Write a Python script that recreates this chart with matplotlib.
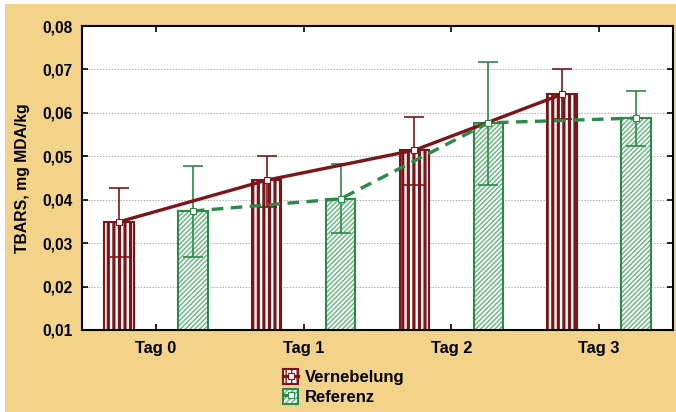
import numpy as np
import matplotlib
matplotlib.use('Agg')
import matplotlib.pyplot as plt
from matplotlib.patches import Rectangle
from matplotlib.ticker import FuncFormatter, MultipleLocator

# Daten
tage = ['Tag 0', 'Tag 1', 'Tag 2', 'Tag 3']
vern_mean = [0.0349, 0.0445, 0.0514, 0.0643]
vern_upper = [0.0426, 0.0501, 0.0591, 0.0700]
vern_lower = [0.0269, 0.0384, 0.0434, 0.0586]
ref_mean = [0.0374, 0.0402, 0.0577, 0.0588]
ref_upper = [0.0478, 0.0482, 0.0718, 0.0651]
ref_lower = [0.0269, 0.0323, 0.0433, 0.0524]

RED = '#7d1418'
GREEN = '#2b8a4a'
GREEN_HATCH = '#62b77b'
BG = '#f3d38a'

plt.rcParams['font.family'] = ['Liberation Sans', 'DejaVu Sans']
plt.rcParams['font.weight'] = 'bold'

fig = plt.figure(figsize=(6.76, 4.12), dpi=100, facecolor='white')
fig.patches.append(Rectangle((5/676, 0), 1, 1 - 4/412, transform=fig.transFigure,
                             facecolor=BG, edgecolor='none', zorder=-10))
ax = fig.add_axes([82/676, 82/412, 591/676, 304/412])

x = np.arange(len(tage))
off = 0.25
w = 0.2

with plt.rc_context({'hatch.linewidth': 2.3}):
    b1 = ax.bar(x - off, vern_mean, w, color='white', edgecolor=RED, hatch='|||',
                linewidth=1.5, zorder=2)
    h1 = Rectangle((0, 0), 1, 1, facecolor='white', edgecolor=RED, hatch='|||', lw=1.5)
with plt.rc_context({'hatch.linewidth': 1.0}):
    ax.bar(x + off, ref_mean, w, color='white', edgecolor=GREEN_HATCH, hatch='///////',
           linewidth=0, zorder=2)
    h2 = Rectangle((0, 0), 1, 1, facecolor='white', edgecolor=GREEN_HATCH, hatch='//////', lw=0)
ax.bar(x + off, ref_mean, w, color='none', edgecolor=GREEN, linewidth=1.5, zorder=2.1)
h2b = Rectangle((0, 0), 1, 1, facecolor='none', edgecolor=GREEN, lw=1.5)

vm = np.array(vern_mean)
rm = np.array(ref_mean)
ax.errorbar(x - off, vm, yerr=[vm - np.array(vern_lower), np.array(vern_upper) - vm],
            fmt='none', ecolor=RED, elinewidth=1.2, capsize=7, capthick=1.2, zorder=3)
ax.errorbar(x + off, rm, yerr=[rm - np.array(ref_lower), np.array(ref_upper) - rm],
            fmt='none', ecolor=GREEN, elinewidth=1.2, capsize=7, capthick=1.2, zorder=3)

l1, = ax.plot(x - off, vm, '-', color=RED, lw=2.4, marker='s', ms=5,
              mfc='white', mec=RED, mew=0.8, zorder=4)
l2, = ax.plot(x + off, rm, '--', color=GREEN, lw=2.4, dashes=(3.5, 2.2), marker='s', ms=5,
              mfc='white', mec=GREEN, mew=0.8, zorder=4)

ax.set_xlim(-0.5, 3.5)
ax.set_ylim(0.01, 0.08)
ax.yaxis.set_major_locator(MultipleLocator(0.01))
ax.yaxis.set_major_formatter(FuncFormatter(lambda v, p: f'{v:.2f}'.replace('.', ',')))
ax.set_xticks(x)
ax.set_xticklabels(tage)
ax.tick_params(direction='in', length=4, width=1.2, top=True, right=True, colors='black')
ax.tick_params(axis='y', pad=7, labelsize=11.2)
ax.tick_params(axis='x', pad=8, labelsize=11.8)
for lab in ax.get_xticklabels() + ax.get_yticklabels():
    lab.set_fontweight('bold')
ax.yaxis.grid(True, linestyle=(0, (1.5, 1.5)), color='#b0b0b0', lw=0.7)
ax.set_axisbelow(True)
for s in ax.spines.values():
    s.set_linewidth(1.5)

fig.text(23/676, 0.568, 'TBARS, mg MDA/kg', rotation=90, ha='center', va='center',
         fontsize=11.3, fontweight='bold')

leg = fig.legend([(h1, l1), (h2, h2b, l2)], ['Vernebelung', 'Referenz'],
                 loc='center', bbox_to_anchor=(344/676, 25/412), frameon=False,
                 prop={'size': 12, 'weight': 'bold'}, handlelength=0.9,
                 handleheight=1.0, handletextpad=0.4, labelspacing=0.2)

fig.savefig('out.png', dpi=100, facecolor=fig.get_facecolor())
